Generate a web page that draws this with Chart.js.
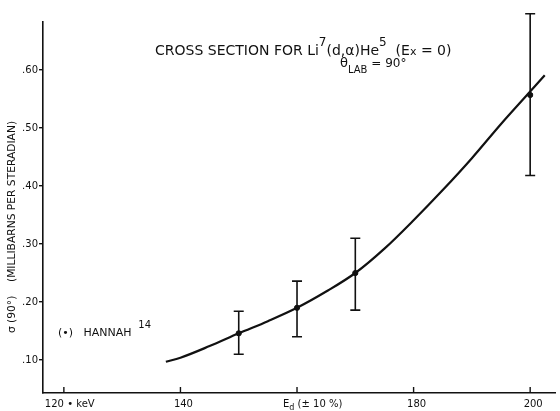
<!DOCTYPE html>
<html>
<head>
<meta charset="utf-8">
<script src="https://cdn.jsdelivr.net/npm/chart.js@4.4.1/dist/chart.umd.min.js"></script>
<style>
    html, body { margin: 0; padding: 0; background: #ffffff; }
    canvas { display: block; }
</style>
</head>
<body>
<canvas id="grafica-seccion" width="560" height="411"></canvas>
<script>
// Curva ajustada (keV, mb/sr)
const curvaX = [137.5, 140, 145, 150, 155, 160, 165, 170, 175, 180, 185, 190, 195, 200, 202.5];
const curvaY = [0.097, 0.104, 0.124, 0.146, 0.167, 0.19, 0.218, 0.25, 0.292, 0.341, 0.393, 0.448, 0.507, 0.563, 0.591];

// Puntos medidos con sus barras de error
const puntosX = [150, 160, 170, 200];
const puntosY = [0.146, 0.19, 0.25, 0.557];
const errorBajo = [0.11, 0.14, 0.186, 0.418];
const errorAlto = [0.184, 0.236, 0.31, 0.697];

// Marcas de los ejes
const ticksX = [120, 140, 160, 180, 200];
const etiquetasX = ['120 \u2022 keV', '140', 'E', '180', '200'];
const ticksY = [0.1, 0.2, 0.3, 0.4, 0.5, 0.6];

const FUENTE = '"DejaVu Sans"';
const NEGRO = '#111111';

// Escribe trozos de texto seguidos (para superindices y subindices).
function textoCompuesto(ctx, x, y, partes) {
    partes.forEach(function (p) {
        ctx.font = p.size + 'px ' + FUENTE;
        ctx.fillText(p.t, x, y + (p.dy || 0));
        x += ctx.measureText(p.t).width;
    });
}

// Barras de error con sus topes.
const barrasError = {
    id: 'barrasError',
    afterDatasetsDraw(chart) {
        const { ctx, scales: { x, y } } = chart;
        ctx.save();
        ctx.strokeStyle = NEGRO;
        ctx.lineWidth = 1.6;
        puntosX.forEach(function (v, i) {
            const px = x.getPixelForValue(v);
            const arriba = y.getPixelForValue(errorAlto[i]);
            const abajo = y.getPixelForValue(errorBajo[i]);
            ctx.beginPath();
            ctx.moveTo(px, arriba);
            ctx.lineTo(px, abajo);
            ctx.moveTo(px - 5, arriba);
            ctx.lineTo(px + 5, arriba);
            ctx.moveTo(px - 5, abajo);
            ctx.lineTo(px + 5, abajo);
            ctx.stroke();
        });
        ctx.restore();
    },
};

// Titulos, leyenda y etiquetas del eje x.
const textos = {
    id: 'textos',
    afterDraw(chart) {
        const { ctx, chartArea, scales: { x } } = chart;
        ctx.save();
        ctx.fillStyle = NEGRO;
        ctx.textBaseline = 'alphabetic';
        ctx.textAlign = 'left';

        textoCompuesto(ctx, 155, 55, [
            { t: 'CROSS SECTION FOR Li', size: 14 },
            { t: '7', size: 12, dy: -9 },
            { t: '(d,\u03b1)He', size: 14 },
            { t: '5', size: 12, dy: -9 },
            { t: '  (E', size: 14 },
            { t: 'x', size: 11 },
            { t: ' = 0)', size: 14 },
        ]);
        textoCompuesto(ctx, 340, 67, [
            { t: '\u03b8', size: 13 },
            { t: 'LAB', size: 10, dy: 6 },
            { t: ' = 90\u00b0', size: 12 },
        ]);

        // Leyenda
        textoCompuesto(ctx, 58, 336, [
            { t: '(\u2022)   HANNAH ', size: 11 },
            { t: ' 14', size: 10, dy: -8 },
        ]);

        // Titulo del eje y
        ctx.save();
        ctx.translate(15, 227);
        ctx.rotate(-Math.PI / 2);
        ctx.textAlign = 'center';
        ctx.font = '10.7px ' + FUENTE;
        ctx.fillText('\u03c3 (90\u00b0)    (MILLIBARNS PER STERADIAN)', 0, 0);
        ctx.restore();

        // Marcas y etiquetas del eje x (marcas hacia dentro)
        ctx.strokeStyle = NEGRO;
        ctx.lineWidth = 1.4;
        ticksX.forEach(function (v, i) {
            const px = x.getPixelForValue(v);
            ctx.beginPath();
            ctx.moveTo(px, chartArea.bottom);
            ctx.lineTo(px, chartArea.bottom - 6);
            ctx.stroke();

            const base = chartArea.bottom + 14;
            if (i === 0) {
                textoCompuesto(ctx, px - 19, base, [{ t: etiquetasX[i], size: 10 }]);
            } else if (v === 160) {
                textoCompuesto(ctx, px - 14, base, [
                    { t: etiquetasX[i], size: 10 },
                    { t: 'd', size: 8, dy: 3 },
                    { t: ' (\u00b1 10 %)', size: 10 },
                ]);
            } else {
                ctx.textAlign = 'center';
                ctx.font = '10px ' + FUENTE;
                ctx.fillText(etiquetasX[i], px + 3, base);
                ctx.textAlign = 'left';
            }
        });
        ctx.restore();
    },
};

const canvas = document.getElementById('grafica-seccion');

new Chart(canvas, {
    type: 'scatter',
    data: {
        datasets: [
            {
                label: 'curva',
                data: curvaX.map(function (v, i) { return { x: v, y: curvaY[i] }; }),
                showLine: true,
                borderColor: NEGRO,
                borderWidth: 2.2,
                pointRadius: 0,
                cubicInterpolationMode: 'monotone',
                fill: false,
            },
            {
                label: 'Hannah',
                data: puntosX.map(function (v, i) { return { x: v, y: puntosY[i] }; }),
                showLine: false,
                pointRadius: 2.6,
                pointBackgroundColor: NEGRO,
                pointBorderColor: NEGRO,
                clip: false,
            },
        ],
    },
    options: {
        responsive: false,
        animation: false,
        layout: {
            padding: { top: 22, right: 2, left: 0, bottom: 0 },
        },
        plugins: {
            legend: { display: false },
            tooltip: { enabled: false },
        },
        scales: {
            x: {
                type: 'linear',
                min: 116.42,
                max: 204.26,
                afterBuildTicks: function (scale) {
                    scale.ticks = ticksX.map(function (v) { return { value: v }; });
                },
                afterFit: function (scale) {
                    scale.height = 18;
                },
                grid: { display: false, drawTicks: false },
                border: { display: true, color: NEGRO, width: 1.6 },
                ticks: { display: false },
            },
            y: {
                type: 'linear',
                min: 0.0431,
                max: 0.6828,
                afterBuildTicks: function (scale) {
                    scale.ticks = ticksY.map(function (v) { return { value: v }; });
                },
                afterFit: function (scale) {
                    scale.width = 43;
                },
                grid: {
                    drawOnChartArea: false,
                    drawTicks: true,
                    tickLength: 4,
                    color: NEGRO,
                    lineWidth: 1.4,
                },
                border: { display: true, color: NEGRO, width: 1.6 },
                ticks: {
                    color: NEGRO,
                    padding: 1,
                    font: { family: 'DejaVu Sans', size: 10 },
                    callback: function (v) {
                        return v.toFixed(2).replace(/^0/, '');
                    },
                },
            },
        },
    },
    plugins: [barrasError, textos],
});
</script>
</body>
</html>
